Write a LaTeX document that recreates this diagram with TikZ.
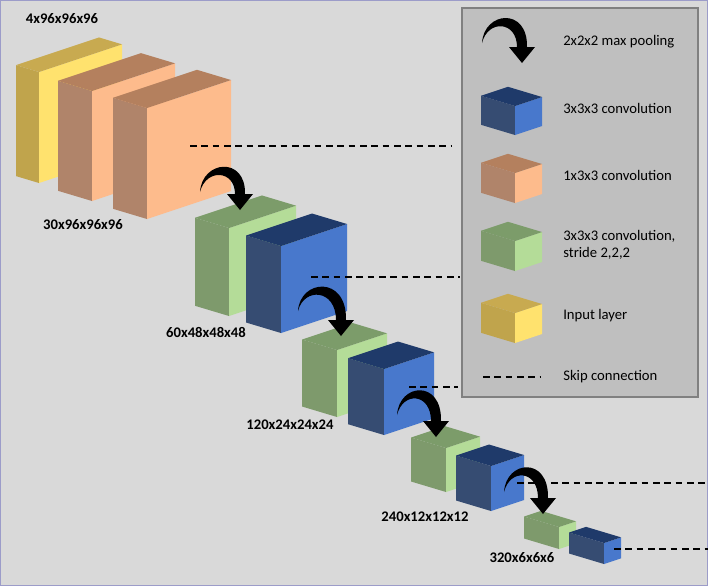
\documentclass[tikz,border=0pt]{standalone}
\usepackage{fontspec}
\setmainfont{Carlito}
\usetikzlibrary{arrows.meta}
\definecolor{bgc}{HTML}{D9D9D9}
\definecolor{legc}{HTML}{BFBFBF}
\definecolor{ys}{HTML}{C0A44C}\definecolor{yf}{HTML}{FFE26E}\definecolor{yt}{HTML}{C8AA50}
\definecolor{os}{HTML}{B0846A}\definecolor{of}{HTML}{FDBB8C}\definecolor{ot}{HTML}{B4805E}
\definecolor{gs}{HTML}{7E9A6C}\definecolor{gf}{HTML}{B4DC98}\definecolor{gt}{HTML}{7C9C6A}
\definecolor{bs}{HTML}{364C72}\definecolor{bf}{HTML}{4878CC}\definecolor{bt}{HTML}{1F3A6A}
\newcommand\cub[6]{% x y W H depth colourprefix
 \fill[#6s] (#1,#2) -- ++(-#5,-0.3*#5) -- ++(0,#4) -- (#1,#2+#4) -- cycle;
 \fill[#6f] (#1,#2) -- ++(#3,-#3/3) -- ++(0,#4) -- (#1,#2+#4) -- cycle;
 \fill[#6t] (#1,#2) -- ++(#3,-#3/3) -- ++(-#5,-0.3*#5) -- ++(-#3,#3/3) -- cycle;}
% tapered swoosh: start (#1,#2), tip (#3,#4)
\newcommand\pool[4]{%
 \fill (#1,#2) .. controls (#1+2,#2-32) and (#3+6,#2-36) .. (#3+5,#4-16)
   -- (#3+13,#4-16) -- (#3,#4) -- (#3-13,#4-16) -- (#3-5,#4-16)
   .. controls (#3-5,#2-22) and (#1+6,#2-24) .. (#1,#2) -- cycle;}
\tikzset{
 skip/.style={line width=1.5pt,dash pattern=on 5pt off 3.5pt},
 lab/.style={font=\fontsize{11}{13}\selectfont\bfseries,inner sep=0pt},
 leg/.style={font=\fontsize{11}{13}\selectfont,inner sep=0pt,anchor=west,align=left}}
\begin{document}
\begin{tikzpicture}[x=0.75pt,y=-0.75pt]
\useasboundingbox (0,0) rectangle (708,586);
\fill[bgc,draw=blue!30!gray!60,line width=0.8pt] (0.5,0.5) rectangle (707.5,585.5);
% legend
\draw[fill=legc,draw=gray,line width=0.8pt] (462,8) rectangle (698,397);
\pool{482}{43}{522}{63}
\cub{515}{106}{27}{29}{34}{b}
\cub{515}{173}{27}{30}{34}{o}
\cub{515}{241}{27}{30}{34}{g}
\cub{515}{313}{27}{30}{34}{y}
\coordinate (l1) at (483,377); \coordinate (l2) at (540,377);
\draw[skip] (l1) -- (l2);
\node[leg] (t1) at (563,42) {2x2x2 max pooling};
\node[leg] (t2) at (563,108) {3x3x3 convolution};
\node[leg] (t3) at (563,175) {1x3x3 convolution};
\node[leg] (t4) at (563,245) {3x3x3 convolution,\\stride 2,2,2};
\node[leg] (t5) at (563,316) {Input layer};
\node[leg] (t6) at (563,377) {Skip connection};
% network
\cub{39}{72}{83}{111}{23}{y}
\cub{92}{91}{83}{110}{34}{o}
\cub{147}{108}{84}{111}{34}{o}
\cub{229}{228}{67}{88}{34}{g}
\cub{281}{246}{66}{87}{35}{b}
\cub{337}{350}{50}{67}{35}{g}
\cub{384}{369}{50}{66}{36}{b}
\cub{446}{448}{34}{44}{35}{g}
\cub{491}{466}{33}{45}{35}{b}
\cub{559}{527}{17}{22}{35}{g}
\cub{604}{543}{17}{21}{35}{b}
% skip connections
\coordinate (s1a) at (190,146); \coordinate (s1b) at (452,146);
\coordinate (s2a) at (311,277); \coordinate (s2b) at (460,277);
\coordinate (s3a) at (409,387); \coordinate (s3b) at (458,387);
\coordinate (s4a) at (517,483); \coordinate (s4b) at (708,483);
\coordinate (s5a) at (614,549); \coordinate (s5b) at (708,549);
\foreach \i in {1,...,5} \draw[skip] (s\i a) -- (s\i b);
% pooling arrows
\pool{200}{192}{240}{210}
\pool{298}{311}{341}{336}
\pool{397}{415}{436}{437}
\pool{504}{492}{543}{514}
% labels
\node[lab] (n1) at (62,19) {4x96x96x96};
\node[lab] (n2) at (83,225) {30x96x96x96};
\node[lab] (n3) at (206,332) {60x48x48x48};
\node[lab] (n4) at (290,425) {120x24x24x24};
\node[lab] (n5) at (425,517) {240x12x12x12};
\node[lab] (n6) at (522,558) {320x6x6x6};
\end{tikzpicture}
\end{document}
